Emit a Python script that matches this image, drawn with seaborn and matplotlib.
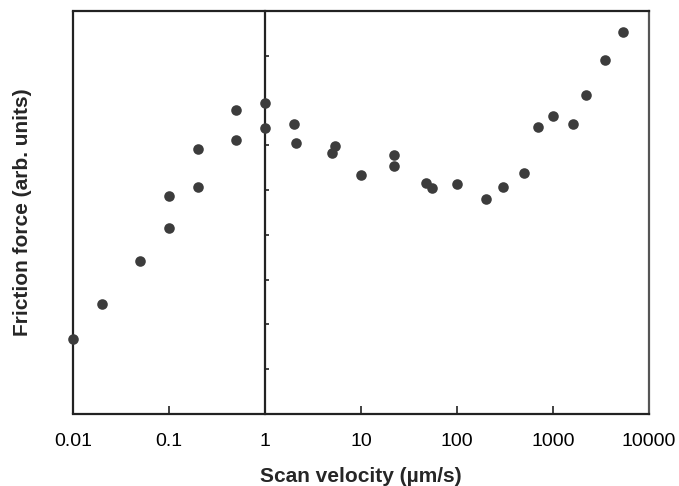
import matplotlib
matplotlib.use("Agg")
import matplotlib.pyplot as plt
import matplotlib.ticker as mticker
import seaborn as sns
import pandas as pd

velocity = [0.01, 0.02, 0.05, 0.1, 0.1, 0.2, 0.2, 0.5, 0.5, 1, 1, 2, 2.1, 5, 5.4,
            10, 22, 22, 48, 55, 100, 200, 300, 500, 700, 1000, 1600, 2200, 3500, 5300]
friction = [1.68, 2.45, 3.42, 4.87, 4.16, 5.91, 5.06, 6.79, 6.11, 6.95, 6.39, 6.48, 6.05, 5.82, 5.99,
            5.34, 5.78, 5.54, 5.15, 5.04, 5.14, 4.80, 5.07, 5.38, 6.42, 6.66, 6.48, 7.12, 7.90, 8.53]
xticks = [0.01, 0.1, 1, 10, 100, 1000, 10000]
xticklabels = ["0.01", "0.1", "1", "10", "100", "1000", "10000"]

df = pd.DataFrame({"v": velocity, "f": friction})

sns.set_style("ticks")
plt.rcParams["font.family"] = ["Liberation Sans", "DejaVu Sans"]

fig = plt.figure(figsize=(6.79, 4.86), dpi=100)
ax = fig.add_axes([73/679, 72/486, 576/679, 403/486])

sns.scatterplot(data=df, x="v", y="f", ax=ax, color="#3c3c3c", s=58,
                edgecolor="#3c3c3c", linewidth=0, clip_on=False, zorder=3)

ax.set_xscale("log")
ax.set_xlim(0.01, 10000)
ax.set_ylim(0, 9)
ax.set_xticks(xticks)
ax.set_xticklabels(xticklabels)
ax.xaxis.set_minor_locator(mticker.NullLocator())
ax.set_yticks(range(1, 9))
ax.set_yticklabels([])
ax.yaxis.set_minor_locator(mticker.NullLocator())

# y axis line placed at velocity = 1
ax.spines["left"].set_position(("data", 1))
for sp in ["left", "bottom", "top", "right"]:
    ax.spines[sp].set_visible(True)
    ax.spines[sp].set_linewidth(1.6)
    ax.spines[sp].set_color("#222222")
ax.spines["right"].set_color("#555555")
# frame edge at the left
ax.plot([0, 0], [0, 1], transform=ax.transAxes, color="#222222", lw=1.6,
        clip_on=False, zorder=2)

ax.tick_params(axis="x", direction="in", length=6, width=1.2, labelsize=14,
               pad=14, colors="#222222")
ax.tick_params(axis="y", direction="in", length=3, width=1.2, colors="#222222")
ax.tick_params(axis="x", labelcolor="black")

ax.set_xlabel("Scan velocity (µm/s)", fontsize=15, fontweight="bold", labelpad=12)
ax.set_ylabel("Friction force (arb. units)", fontsize=15, fontweight="bold")
ax.yaxis.set_label_coords(-0.072, 0.5)

fig.savefig("out.png", dpi=100)
